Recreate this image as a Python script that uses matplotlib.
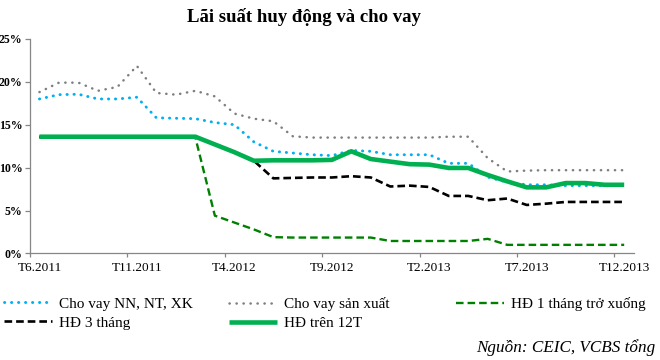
import matplotlib
matplotlib.use("Agg")
import matplotlib.pyplot as plt
import numpy as np

plt.rcParams['font.family'] = ['Liberation Serif', 'DejaVu Serif']

# --- Data (monthly, T6.2011 .. T12.2013) ---
months = ["T%d.%d" % (m, y) for y in (2011, 2012, 2013) for m in range(1, 13)]
months = months[5:]   # start at T6.2011, 31 months

cho_vay_xk = [18.0, 18.5, 18.55, 18.0, 18.0, 18.2, 15.8, 15.75, 15.7, 15.25,
              15.0, 13.0, 11.9, 11.7, 11.5, 11.4, 12.0, 11.9, 11.5, 11.5,
              11.5, 10.5, 10.5, 8.9, 8.3, 8.0, 8.0, 7.9, 7.9, 7.9, 7.9]
cho_vay_sx = [18.8, 19.9, 19.9, 18.95, 19.4, 21.85, 18.7, 18.5, 18.95, 18.3,
              16.3, 15.7, 15.4, 13.65, 13.5, 13.5, 13.5, 13.5, 13.5, 13.5,
              13.5, 13.6, 13.6, 11.1, 9.55, 9.65, 9.7, 9.7, 9.7, 9.7, 9.7]
hd_1t = [13.5, 13.5, 13.5, 13.5, 13.5, 13.5, 13.5, 13.5, 13.5, 4.4,
         3.6, 2.8, 1.9, 1.85, 1.85, 1.85, 1.85, 1.85, 1.45, 1.45,
         1.45, 1.45, 1.45, 1.7, 1.0, 1.0, 1.0, 1.0, 1.0, 1.0, 1.0]
hd_3t = [13.6, 13.6, 13.6, 13.6, 13.6, 13.6, 13.6, 13.6, 13.6, 12.7,
         11.8, 10.8, 8.75, 8.8, 8.85, 8.85, 9.0, 8.85, 7.8, 7.9,
         7.75, 6.7, 6.7, 6.2, 6.4, 5.65, 5.8, 6.0, 6.0, 6.0, 6.0]
hd_12t = [13.6, 13.6, 13.6, 13.6, 13.6, 13.6, 13.6, 13.6, 13.6, 12.7,
          11.8, 10.8, 10.85, 10.85, 10.85, 10.9, 11.9, 11.0, 10.7, 10.4,
          10.35, 9.96, 9.96, 9.14, 8.4, 7.7, 7.7, 8.2, 8.2, 8.0, 8.0]

x = np.arange(len(months))

fig = plt.figure(figsize=(6.6, 3.6), dpi=100)
ax = fig.add_axes([0.045, 0.296, 0.9155, 0.596])

l_xk, = ax.plot(x, cho_vay_xk, color='#00B0F0', lw=2.1, dashes=(0.1, 2.3),
                dash_capstyle='round', label='Cho vay NN, NT, XK')
l_sx, = ax.plot(x, cho_vay_sx, color='#7F7F7F', lw=1.8, dashes=(0.1, 2.7),
                dash_capstyle='round', label='Cho vay sản xuất')
l_1t, = ax.plot(x, hd_1t, color='#008000', lw=1.7, dashes=(3.2, 1.7),
                label='HĐ 1 tháng trở xuống')
l_3t, = ax.plot(x, hd_3t, color='black', lw=1.9, dashes=(2.9, 1.5),
                label='HĐ 3 tháng')
l_12t, = ax.plot(x, hd_12t, color='#00B050', lw=3.3, solid_capstyle='butt',
                 label='HĐ trên 12T')

# axes styling (Excel look)
ax.set_xlim(-0.5, len(months) - 0.5)
ax.set_ylim(0, 25)
for s in ('top', 'right'):
    ax.spines[s].set_visible(False)
for s in ('left', 'bottom'):
    ax.spines[s].set_color('#868686')
    ax.spines[s].set_linewidth(0.9)

ax.set_yticks(np.arange(0, 26, 5))
ax.set_yticklabels(["%d%%" % v for v in range(0, 26, 5)], fontsize=8.5, fontweight='bold')
ax.tick_params(axis='y', direction='out', length=3.6, width=0.9, color='#868686', pad=1.5)

ax.set_xticks(np.arange(-0.5, len(months) - 1, 5))
ax.set_xticklabels([])
ax.set_xticks(x[::5], minor=True)
ax.set_xticklabels(months[::5], minor=True, fontsize=9.5)
ax.tick_params(axis='x', which='major', direction='out', length=3, width=0.9, color='#868686')
ax.tick_params(axis='x', which='minor', length=0, pad=6.5)

fig.text(0.461, 0.953, 'Lãi suất huy động và cho vay', ha='center', va='center',
         fontsize=13.5, fontweight='bold')

# legend in three manually placed columns
leg_kw = dict(frameon=False, loc='upper left', borderaxespad=0, borderpad=0,
              fontsize=11, handlelength=3.15, handletextpad=0.45, labelspacing=0.35)
fig.legend(handles=[l_xk, l_3t], bbox_to_anchor=(0.006, 0.175), **leg_kw)
fig.legend(handles=[l_sx, l_12t], bbox_to_anchor=(0.347, 0.175), **leg_kw)
fig.legend(handles=[l_1t], bbox_to_anchor=(0.691, 0.175), **leg_kw)

fig.text(655 / 660, 1 - 348 / 360, 'Nguồn: CEIC, VCBS tổng', ha='right', va='center',
         fontsize=12.3, style='italic')

fig.savefig('out.png', dpi=100)
